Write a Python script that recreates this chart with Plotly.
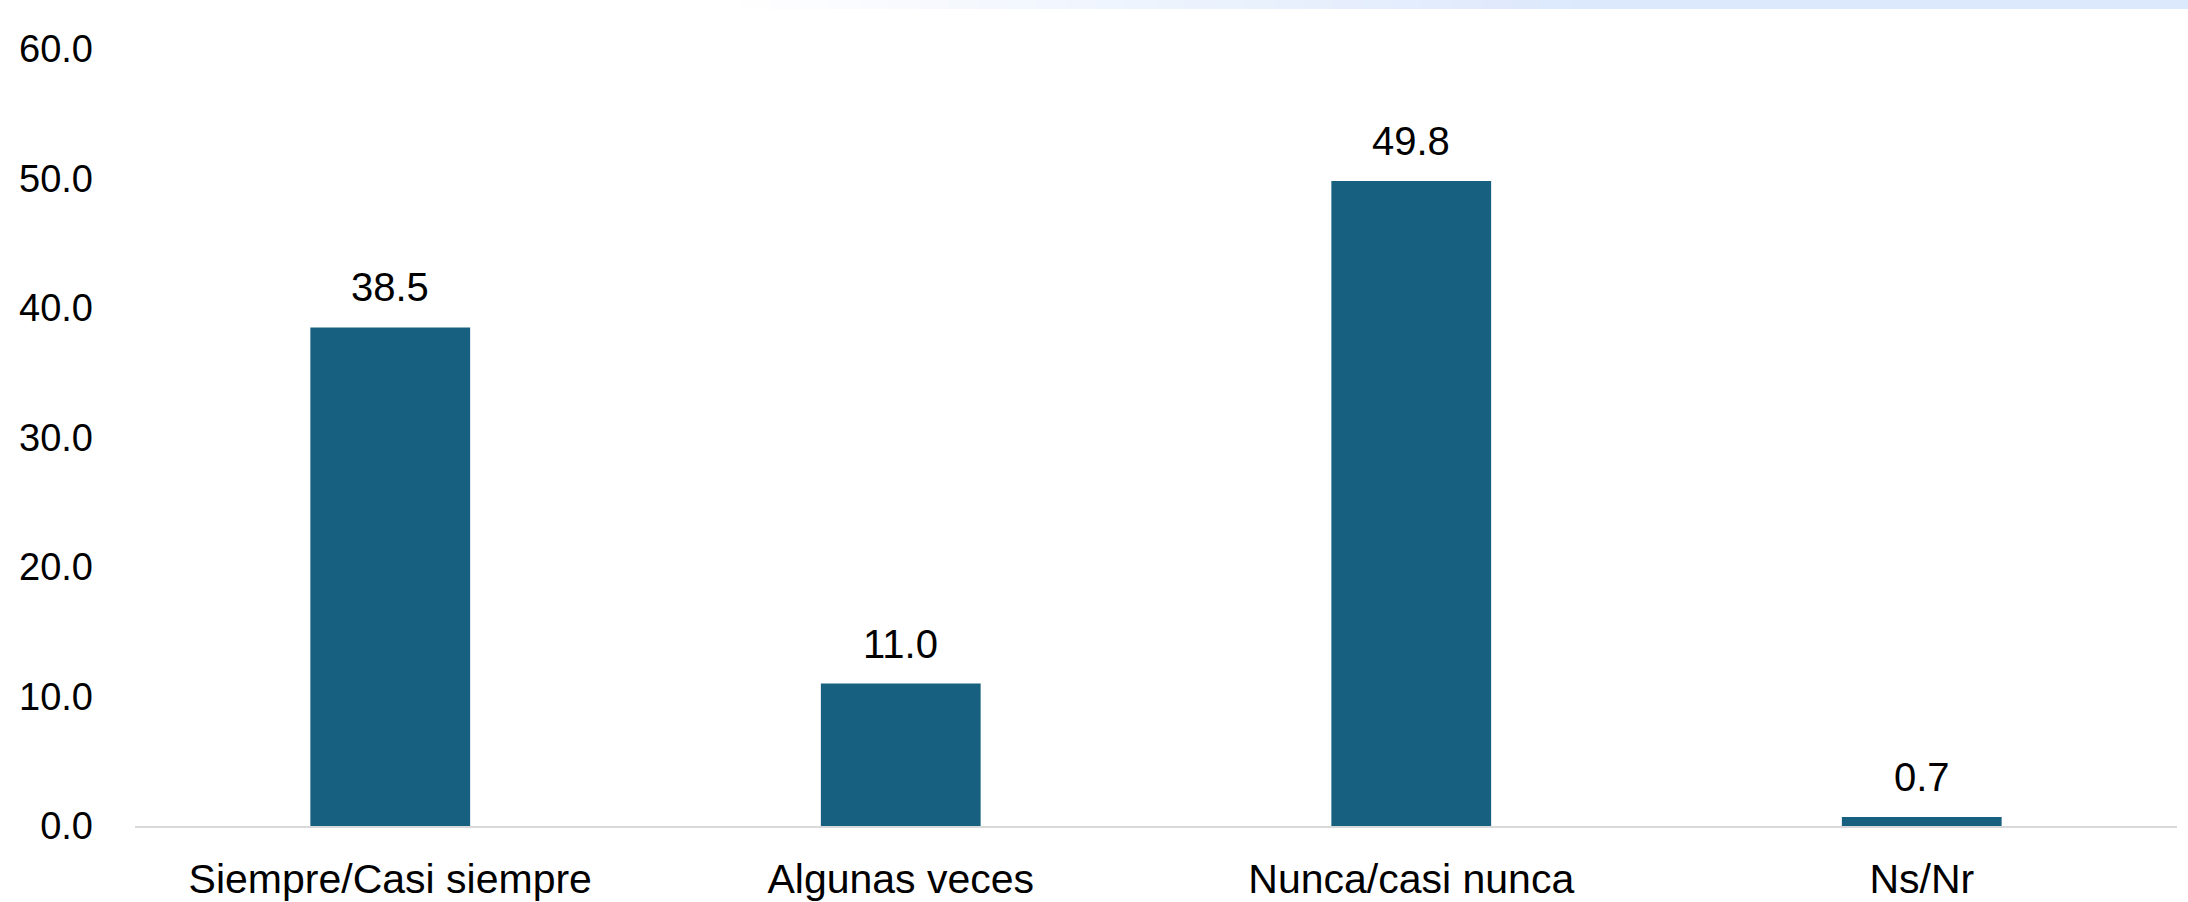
import plotly.graph_objects as go

categories = ['Siempre/Casi siempre', 'Algunas veces', 'Nunca/casi nunca', 'Ns/Nr']
values = [38.5, 11.0, 49.8, 0.7]
y_ticks = [0, 10, 20, 30, 40, 50, 60]

BAR_COLOR = '#17607F'
FAMILY = 'Liberation Sans, Arial, sans-serif'
TICK_FONT = dict(family=FAMILY, size=38, color='#000000')
CAT_FONT = dict(family=FAMILY, size=41, color='#000000')
LABEL_FONT = dict(family=FAMILY, size=40, color='#000000')

W, H = 2188, 902
ML, MR, MT, MB = 135, 11, 49, 76
PW, PH = W - ML - MR, H - MT - MB   # plot area size in px

fig = go.Figure()
fig.add_trace(go.Bar(x=categories, y=values, marker=dict(color=BAR_COLOR, line=dict(width=0)),
                     hoverinfo='x+y'))

# data labels above the bars
for cat, val in zip(categories, values):
    fig.add_annotation(x=cat, y=val, text=f'{val:.1f}', showarrow=False,
                       yanchor='bottom', yshift=16, font=LABEL_FONT)

# faint blue gradient band along the top edge (positions in figure px)
n = 30
x0_px, x1_px = 711, 1600
band_top, band_bot = 0, 9
c0 = (255, 255, 255)
c1 = (220, 232, 252)
def px_x(x):
    return (x - ML) / PW
def px_y(y):
    return (MT + PH - y) / PH
for i in range(n):
    t = i / (n - 1)
    col = tuple(round(a + (b - a) * t) for a, b in zip(c0, c1))
    xa = x0_px + (x1_px - x0_px) * i / n
    xb = x0_px + (x1_px - x0_px) * (i + 1) / n + 1
    fig.add_shape(type='rect', xref='paper', yref='paper', layer='below',
                  x0=px_x(xa), x1=px_x(xb), y0=px_y(band_bot), y1=px_y(band_top),
                  fillcolor='rgb(%d,%d,%d)' % col, line=dict(width=0))
fig.add_shape(type='rect', xref='paper', yref='paper', layer='below',
              x0=px_x(x1_px), x1=px_x(W), y0=px_y(band_bot), y1=px_y(band_top),
              fillcolor='rgb(%d,%d,%d)' % c1, line=dict(width=0))

fig.update_layout(
    width=W, height=H, margin=dict(l=ML, r=MR, t=MT, b=MB, autoexpand=False),
    plot_bgcolor='white', paper_bgcolor='white', bargap=0.687,
    showlegend=False, font=TICK_FONT,
    xaxis=dict(showline=True, linecolor='#D9D9D9', linewidth=2, showgrid=False,
               ticks='', tickfont=CAT_FONT, ticklabelstandoff=16, automargin=False),
    yaxis=dict(range=[0, 60], tickvals=y_ticks, tickformat='.1f', showgrid=False,
               zeroline=False, showline=False, ticks='', tickfont=TICK_FONT,
               ticklabelstandoff=41, automargin=False),
)

# drop the browser's default body margin so the figure fills the window
fig.write_html('out.html', config={'displayModeBar': False},
               post_script="document.body.style.margin='0';")
